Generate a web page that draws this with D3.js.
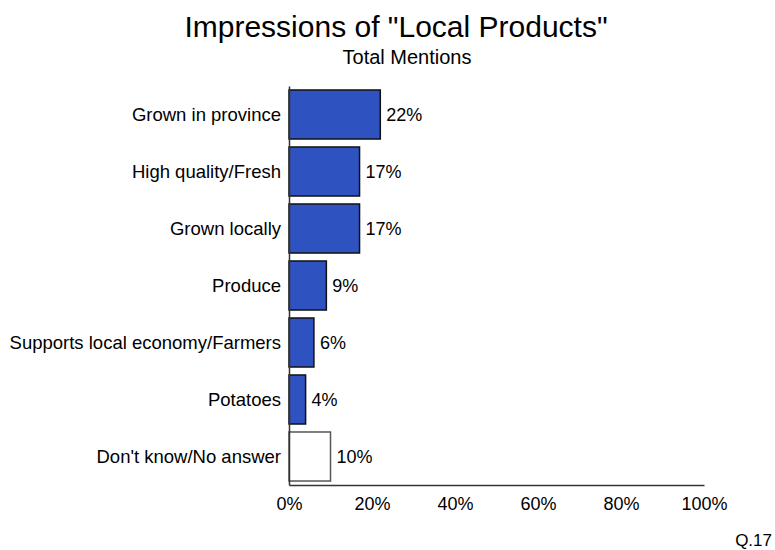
<!DOCTYPE html>
<html><head><meta charset="utf-8">
<script src="https://cdn.jsdelivr.net/npm/d3@7"></script>
<style>body{margin:0;background:#fff}svg{display:block}text{font-family:Arial,"Liberation Sans",sans-serif;fill:#000}</style>
</head><body>
<svg id="chart" width="775" height="550"></svg>
<script>
const categories = ["Grown in province","High quality/Fresh","Grown locally","Produce","Supports local economy/Farmers","Potatoes","Don't know/No answer"];
const values = [22,17,17,9,6,4,10];
const isNoAnswer = [false,false,false,false,false,false,true];
const tickValues = [0,20,40,60,80,100];
const tickLabels = ["0%","20%","40%","60%","80%","100%"];
const titleText = 'Impressions of "Local Products"';
const subtitleText = "Total Mentions";
const noteText = "Q.17";

const svg = d3.select("#chart");
const x = d3.scaleLinear().domain([0,100]).range([289,704]);
const y = d3.scaleBand().domain(categories).range([86,485]).paddingInner(0.14).paddingOuter(0.07);

svg.append("text").attr("x",396).attr("y",37).attr("text-anchor","middle").style("font-size","30px").text(titleText);
svg.append("text").attr("x",407).attr("y",64).attr("text-anchor","middle").style("font-size","20px").text(subtitleText);

const data = categories.map((c,i)=>({c, v:values[i], na:isNoAnswer[i]}));

svg.selectAll("rect.bar").data(data).enter().append("rect")
  .attr("class","bar")
  .attr("x",x(0)).attr("y",d=>y(d.c))
  .attr("width",d=>x(d.v)-x(0)).attr("height",y.bandwidth())
  .attr("fill",d=>d.na?"#ffffff":"#2E52C0")
  .attr("stroke",d=>d.na?"#555":"#111").attr("stroke-width",1.5);

svg.selectAll("text.val").data(data).enter().append("text")
  .attr("class","val")
  .attr("x",d=>x(d.v)+6).attr("y",d=>y(d.c)+y.bandwidth()/2).attr("dy","0.35em")
  .style("font-size","18px").text(d=>d.v+"%");

svg.selectAll("text.cat").data(data).enter().append("text")
  .attr("class","cat")
  .attr("x",281).attr("y",d=>y(d.c)+y.bandwidth()/2).attr("dy","0.35em")
  .attr("text-anchor","end").style("font-size","18.5px").text(d=>d.c);

// axes
const xAxis = d3.axisBottom(x).tickValues(tickValues).tickFormat((d,i)=>tickLabels[i]).tickSize(0).tickPadding(12);
const gx = svg.append("g").attr("transform","translate(0,485)").call(xAxis);
gx.select(".domain").attr("stroke","#333").attr("stroke-width",1.5);
gx.selectAll("text").style("font-size","18px").attr("fill","#000").attr("font-family","Arial, 'Liberation Sans', sans-serif");

const yAxis = d3.axisLeft(y).tickSize(0).tickFormat("");
const gy = svg.append("g").attr("transform","translate(289,0)").call(yAxis);
gy.select(".domain").attr("stroke","#333").attr("stroke-width",1.5);

svg.append("text").attr("x",772).attr("y",546).attr("text-anchor","end").style("font-size","17px").text(noteText);
</script>
</body></html>
